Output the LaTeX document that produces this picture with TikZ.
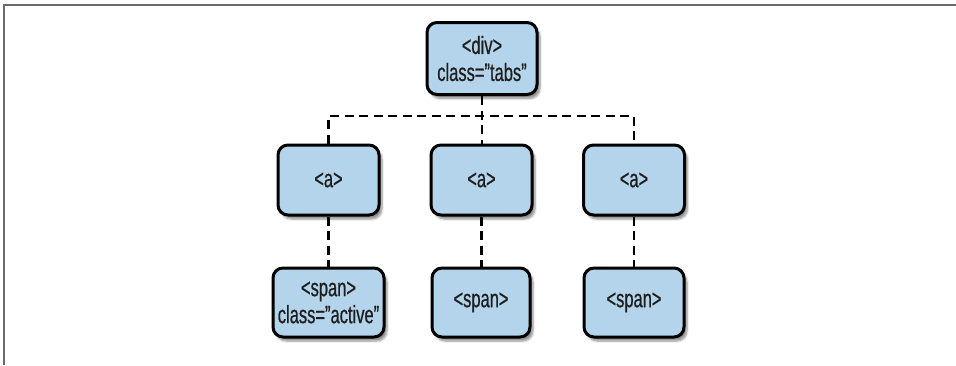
\documentclass[tikz,border=0pt]{standalone}
\usepackage{fontspec}
\setmainfont{Liberation Sans}[FakeStretch=0.66,FakeBold=0.6]
\usetikzlibrary{shadows.blur}
\definecolor{boxfill}{HTML}{B3D4EA}
\definecolor{framegray}{HTML}{6A6A6A}
\definecolor{txt}{HTML}{1E1E1E}
\begin{document}
\begin{tikzpicture}[x=1pt,y=-1pt,
  tag/.style={draw=black, line width=3pt, fill=boxfill, rounded corners=10pt,
    text=txt, font=\fontsize{25}{27}\selectfont, align=center, inner sep=2pt,
    minimum width=101pt, minimum height=70pt,
    blur shadow={shadow xshift=3pt, shadow yshift=-4pt, shadow blur steps=6, shadow opacity=45}},
  conn/.style={draw=black, line width=2.8pt, dash pattern=on 9pt off 5.5pt}]
\useasboundingbox (0,0) rectangle (956,365);
\draw[framegray, line width=2pt] (3.5,365) -- (3.5,5) -- (956,5);
\node[tag, minimum width=110pt, minimum height=72pt] (div) at (482,58.5) {<div>\\class=”tabs”};
\node[tag] (a1) at (328.5,180) {<a>};
\node[tag] (a2) at (481.5,180) {<a>};
\node[tag] (a3) at (634,180) {<a>};
\node[tag, minimum width=111pt, minimum height=69pt] (s1) at (328.5,302.5) {<span>\\class=”active”};
\node[tag, minimum width=98pt, minimum height=69pt] (s2) at (481,302.5) {<span>};
\node[tag, minimum width=100pt, minimum height=69pt] (s3) at (634,302.5) {<span>};
\coordinate (bus) at (482,116);
\draw[conn] (div.south) -- (div.south |- a2.north);
\draw[conn] (a1.north) -- (a1.north |- bus) -- (a3.north |- bus) -- (a3.north);
\draw[conn] (a1.south) -- (a1.south |- s1.north);
\draw[conn] (a2.south) -- (a2.south |- s2.north);
\draw[conn] (a3.south) -- (a3.south |- s3.north);
\end{tikzpicture}
\end{document}
